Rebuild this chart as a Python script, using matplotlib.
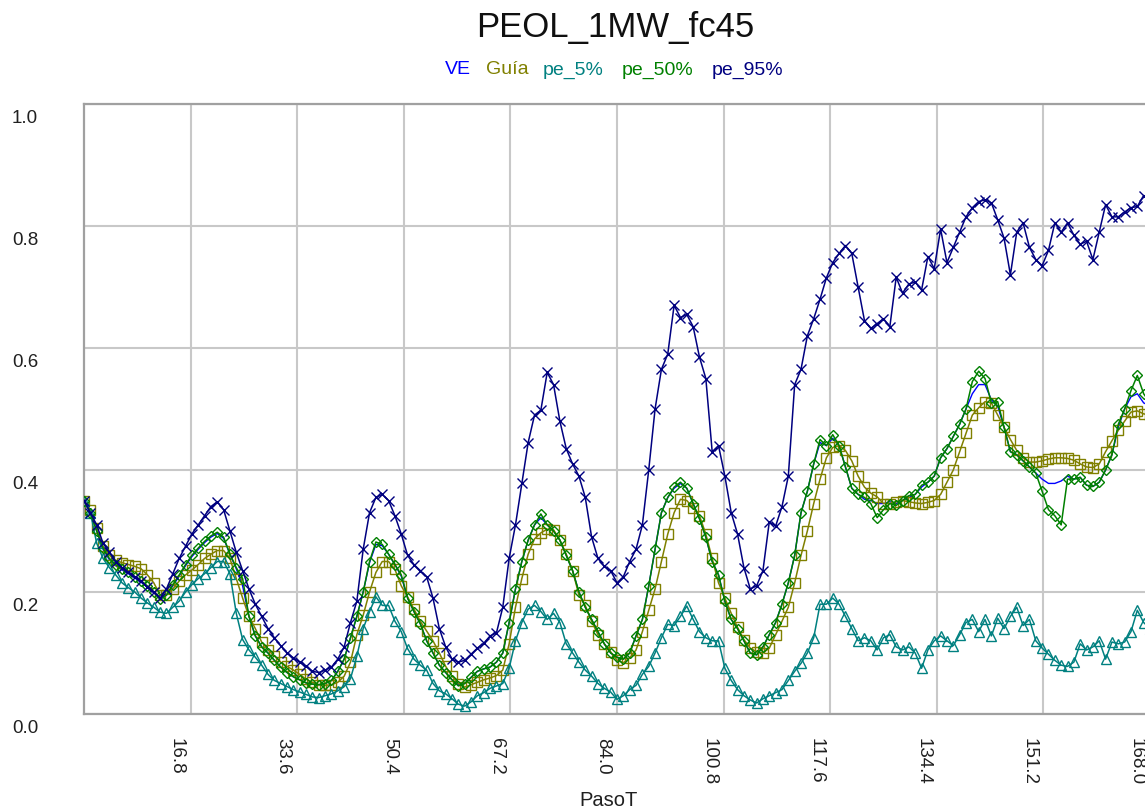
import matplotlib
matplotlib.use("Agg")
import matplotlib.pyplot as plt
import matplotlib.transforms as mtransforms

plt.rcParams['font.family'] = ['Liberation Sans', 'DejaVu Sans']

# paso de tiempo 0..168
paso = list(range(169))

pe_95 = [0.35, 0.33, 0.31, 0.28, 0.265, 0.25, 0.24, 0.232, 0.225, 0.218,
         0.208, 0.2, 0.19, 0.205, 0.23, 0.255, 0.275, 0.295, 0.31, 0.325,
         0.34, 0.348, 0.335, 0.3, 0.265, 0.235, 0.205, 0.18, 0.16, 0.14,
         0.125, 0.112, 0.1, 0.092, 0.085, 0.078, 0.07, 0.068, 0.072, 0.077,
         0.09, 0.11, 0.15, 0.185, 0.27, 0.33, 0.355, 0.36, 0.35, 0.325,
         0.295, 0.26, 0.245, 0.235, 0.225, 0.19, 0.14, 0.11, 0.09, 0.085,
         0.088, 0.098, 0.108, 0.116, 0.128, 0.133, 0.175, 0.255, 0.31, 0.378,
         0.445, 0.49, 0.498, 0.56, 0.54, 0.48, 0.435, 0.41, 0.39, 0.355,
         0.29, 0.255, 0.242, 0.235, 0.215, 0.225, 0.25, 0.27, 0.31, 0.4,
         0.5, 0.565, 0.59, 0.67, 0.65, 0.655, 0.635, 0.585, 0.55, 0.43,
         0.44, 0.39, 0.33, 0.295, 0.24, 0.205, 0.21, 0.235, 0.315, 0.308,
         0.34, 0.39, 0.54, 0.565, 0.62, 0.648, 0.68, 0.715, 0.74, 0.755,
         0.768, 0.755, 0.7, 0.645, 0.632, 0.64, 0.648, 0.635, 0.716, 0.69,
         0.705, 0.708, 0.695, 0.75, 0.73, 0.795, 0.74, 0.765, 0.79, 0.815,
         0.83, 0.84, 0.843, 0.838, 0.81, 0.78, 0.72, 0.79, 0.805, 0.765,
         0.745, 0.735, 0.76, 0.805, 0.79, 0.805, 0.785, 0.77, 0.775, 0.745,
         0.79, 0.835, 0.815, 0.815, 0.823, 0.83, 0.832, 0.85, 0.845]

pe_5 = [0.35, 0.33, 0.28, 0.255, 0.24, 0.228, 0.215, 0.207, 0.2, 0.19,
        0.182, 0.175, 0.167, 0.165, 0.175, 0.185, 0.2, 0.212, 0.222, 0.23,
        0.24, 0.25, 0.25, 0.23, 0.165, 0.122, 0.105, 0.093, 0.08, 0.065,
        0.055, 0.05, 0.045, 0.04, 0.036, 0.032, 0.028, 0.027, 0.03, 0.033,
        0.038, 0.045, 0.058, 0.095, 0.14, 0.168, 0.192, 0.178, 0.178, 0.152,
        0.135, 0.107, 0.09, 0.08, 0.072, 0.05, 0.038, 0.033, 0.025, 0.016,
        0.013, 0.02, 0.03, 0.035, 0.042, 0.046, 0.05, 0.075, 0.12, 0.15,
        0.172, 0.178, 0.168, 0.155, 0.165, 0.15, 0.115, 0.1, 0.085, 0.072,
        0.062, 0.05, 0.042, 0.036, 0.024, 0.03, 0.04, 0.047, 0.065, 0.078,
        0.1, 0.125, 0.147, 0.145, 0.16, 0.177, 0.155, 0.135, 0.125, 0.12,
        0.12, 0.075, 0.055, 0.04, 0.03, 0.023, 0.018, 0.025, 0.03, 0.035,
        0.04, 0.055, 0.07, 0.083, 0.1, 0.125, 0.18, 0.18, 0.19, 0.18,
        0.16, 0.14, 0.12, 0.125, 0.12, 0.105, 0.125, 0.13, 0.11, 0.105,
        0.11, 0.1, 0.075, 0.105, 0.12, 0.128, 0.12, 0.112, 0.13, 0.15,
        0.155, 0.135, 0.155, 0.128, 0.157, 0.14, 0.16, 0.175, 0.145, 0.155,
        0.12, 0.108, 0.098, 0.088, 0.08, 0.078, 0.085, 0.115, 0.105, 0.11,
        0.12, 0.09, 0.118, 0.115, 0.118, 0.135, 0.17, 0.15, 0.14]

pe_50 = [0.35, 0.33, 0.3, 0.272, 0.255, 0.245, 0.238, 0.232, 0.225, 0.218,
         0.21, 0.2, 0.188, 0.195, 0.212, 0.228, 0.245, 0.26, 0.272, 0.283,
         0.292, 0.298, 0.29, 0.262, 0.24, 0.222, 0.16, 0.128, 0.11, 0.1,
         0.088, 0.077, 0.068, 0.061, 0.056, 0.051, 0.049, 0.048, 0.05, 0.055,
         0.07, 0.09, 0.125, 0.16, 0.2, 0.25, 0.282, 0.278, 0.262, 0.245,
         0.228, 0.19, 0.168, 0.148, 0.12, 0.1, 0.08, 0.068, 0.056, 0.046,
         0.05, 0.06, 0.07, 0.074, 0.077, 0.085, 0.1, 0.15, 0.205, 0.25,
         0.285, 0.31, 0.328, 0.31, 0.3, 0.285, 0.26, 0.235, 0.2, 0.175,
         0.155, 0.135, 0.115, 0.1, 0.093, 0.09, 0.1, 0.128, 0.155, 0.21,
         0.27, 0.33, 0.355, 0.372, 0.38, 0.37, 0.345, 0.32, 0.29, 0.25,
         0.228, 0.185, 0.155, 0.14, 0.12, 0.1, 0.097, 0.11, 0.13, 0.15,
         0.18, 0.215, 0.26, 0.33, 0.365, 0.41, 0.45, 0.44, 0.458, 0.44,
         0.405, 0.37, 0.36, 0.355, 0.345, 0.322, 0.335, 0.345, 0.342, 0.35,
         0.358, 0.36, 0.375, 0.38, 0.39, 0.42, 0.435, 0.455, 0.475, 0.5,
         0.545, 0.562, 0.55, 0.51, 0.512, 0.47, 0.43, 0.425, 0.415, 0.405,
         0.395, 0.365, 0.335, 0.325, 0.31, 0.385, 0.385, 0.388, 0.375, 0.373,
         0.38, 0.4, 0.425, 0.475, 0.5, 0.53, 0.555, 0.525, 0.51]

ve = [0.35, 0.33, 0.3, 0.27, 0.253, 0.243, 0.236, 0.23, 0.223, 0.216,
      0.208, 0.199, 0.188, 0.195, 0.21, 0.226, 0.243, 0.258, 0.27, 0.281,
      0.29, 0.296, 0.288, 0.262, 0.238, 0.21, 0.16, 0.128, 0.11, 0.1,
      0.088, 0.077, 0.068, 0.061, 0.056, 0.051, 0.049, 0.048, 0.05, 0.055,
      0.07, 0.09, 0.125, 0.16, 0.2, 0.248, 0.278, 0.276, 0.262, 0.245,
      0.226, 0.19, 0.168, 0.148, 0.12, 0.1, 0.08, 0.068, 0.056, 0.048,
      0.05, 0.06, 0.07, 0.074, 0.077, 0.085, 0.1, 0.15, 0.205, 0.25,
      0.285, 0.31, 0.322, 0.31, 0.3, 0.285, 0.26, 0.235, 0.2, 0.175,
      0.155, 0.135, 0.115, 0.1, 0.093, 0.09, 0.1, 0.128, 0.155, 0.21,
      0.27, 0.33, 0.355, 0.37, 0.378, 0.37, 0.345, 0.32, 0.29, 0.25,
      0.228, 0.185, 0.155, 0.14, 0.12, 0.1, 0.097, 0.11, 0.13, 0.15,
      0.18, 0.215, 0.26, 0.33, 0.365, 0.41, 0.445, 0.44, 0.452, 0.44,
      0.405, 0.37, 0.36, 0.352, 0.35, 0.345, 0.345, 0.348, 0.345, 0.35,
      0.355, 0.36, 0.372, 0.38, 0.39, 0.42, 0.435, 0.455, 0.475, 0.5,
      0.525, 0.54, 0.54, 0.515, 0.505, 0.47, 0.43, 0.425, 0.415, 0.405,
      0.395, 0.385, 0.378, 0.378, 0.382, 0.39, 0.385, 0.388, 0.375, 0.373,
      0.38, 0.4, 0.425, 0.47, 0.5, 0.52, 0.525, 0.51, 0.505]

guia = [0.35, 0.335, 0.305, 0.275, 0.26, 0.252, 0.248, 0.245, 0.242, 0.238,
        0.228, 0.215, 0.195, 0.195, 0.205, 0.218, 0.228, 0.236, 0.245, 0.255,
        0.262, 0.268, 0.268, 0.255, 0.222, 0.19, 0.16, 0.14, 0.118, 0.105,
        0.095, 0.085, 0.078, 0.072, 0.065, 0.057, 0.052, 0.048, 0.047, 0.048,
        0.052, 0.062, 0.085, 0.13, 0.162, 0.2, 0.232, 0.25, 0.25, 0.237,
        0.21, 0.192, 0.172, 0.152, 0.136, 0.12, 0.1, 0.078, 0.062, 0.05,
        0.044, 0.048, 0.052, 0.056, 0.059, 0.063, 0.072, 0.115, 0.175, 0.222,
        0.262, 0.287, 0.297, 0.303, 0.302, 0.285, 0.262, 0.235, 0.195, 0.178,
        0.152, 0.13, 0.115, 0.102, 0.088, 0.084, 0.092, 0.105, 0.135, 0.17,
        0.205, 0.25, 0.295, 0.33, 0.352, 0.35, 0.338, 0.325, 0.295, 0.255,
        0.215, 0.19, 0.165, 0.142, 0.122, 0.108, 0.102, 0.1, 0.108, 0.13,
        0.152, 0.175, 0.215, 0.26, 0.3, 0.345, 0.385, 0.42, 0.437, 0.44,
        0.432, 0.415, 0.39, 0.372, 0.362, 0.356, 0.345, 0.345, 0.348, 0.35,
        0.348, 0.346, 0.345, 0.347, 0.35, 0.36, 0.38, 0.4, 0.43, 0.46,
        0.49, 0.502, 0.512, 0.51, 0.49, 0.47, 0.45, 0.432, 0.42, 0.413,
        0.413, 0.415, 0.418, 0.42, 0.42, 0.419, 0.416, 0.41, 0.405, 0.404,
        0.41, 0.43, 0.448, 0.465, 0.48, 0.495, 0.497, 0.492, 0.49]

x_ticks = [16.8, 33.6, 50.4, 67.2, 84.0, 100.8, 117.6, 134.4, 151.2, 168.0]
y_ticks = [0.0, 0.2, 0.4, 0.6, 0.8, 1.0]

series = [
    ("VE", ve, "#0000FF", None),
    ("Guía", guia, "#808000", "s"),
    ("pe_5%", pe_5, "#008080", "^"),
    ("pe_50%", pe_50, "#008000", "D"),
    ("pe_95%", pe_95, "#000080", "x"),
]

fig = plt.figure(figsize=(11.45, 8.11), dpi=100)
ax = fig.add_axes([84 / 1145, 97 / 811, 1066 / 1145, 610 / 811])

msize = {"s": 6.5, "^": 7.0, "D": 4.6, "x": 6.5}
for name, vals, col, mk in series:
    if mk is None:
        ax.plot(paso, vals, color=col, lw=1.0, zorder=3)
    else:
        ax.plot(paso, vals, color=col, lw=1.1, marker=mk, ms=msize[mk],
                mfc="none", mec=col, mew=1.0, zorder=3)

ax.set_xlim(0, 168)
ax.set_ylim(0, 1.0)
ax.set_xticks(x_ticks)
ax.set_xticklabels([f"{v:.1f}" for v in x_ticks], rotation=270)
ax.set_yticks(y_ticks)
ax.set_yticklabels([f"{v:.1f}" for v in y_ticks])
ax.grid(True, color="#C8C8C8", lw=1.5)
ax.set_axisbelow(True)
for s in ax.spines.values():
    s.set_color("#A0A0A0")
    s.set_linewidth(1.6)
ax.tick_params(length=0, labelsize=13.5, labelcolor="#202020")
ax.tick_params(axis="x", pad=17)
ax.tick_params(axis="y", pad=33)

# desplazar etiquetas como en el original
dx = mtransforms.ScaledTranslation(-14 / 100, 0, fig.dpi_scale_trans)
for t in ax.xaxis.get_major_ticks():
    t.label1.set_transform(t.label1.get_transform() + dx)
    t.label1.set_verticalalignment("top")
dy = mtransforms.ScaledTranslation(0, -6 / 100, fig.dpi_scale_trans)
for t in ax.yaxis.get_major_ticks():
    t.label1.set_transform(t.label1.get_transform() + dy)
    t.label1.set_verticalalignment("top")

fig.text(615 / 1145, 1 - 27 / 811, "PEOL_1MW_fc45", ha="center", va="center",
         fontsize=25, color="#101010")

leg_x = [445, 486, 543, 622, 712]
for (name, vals, col, mk), lx in zip(series, leg_x):
    fig.text(lx / 1145, 1 - 70 / 811, name, ha="left", va="center",
             fontsize=14, color=col)

fig.text(609 / 1145, 1 - 800 / 811, "PasoT", ha="center", va="center",
         fontsize=14.5, color="#202020")

fig.savefig("out.png", dpi=100)
